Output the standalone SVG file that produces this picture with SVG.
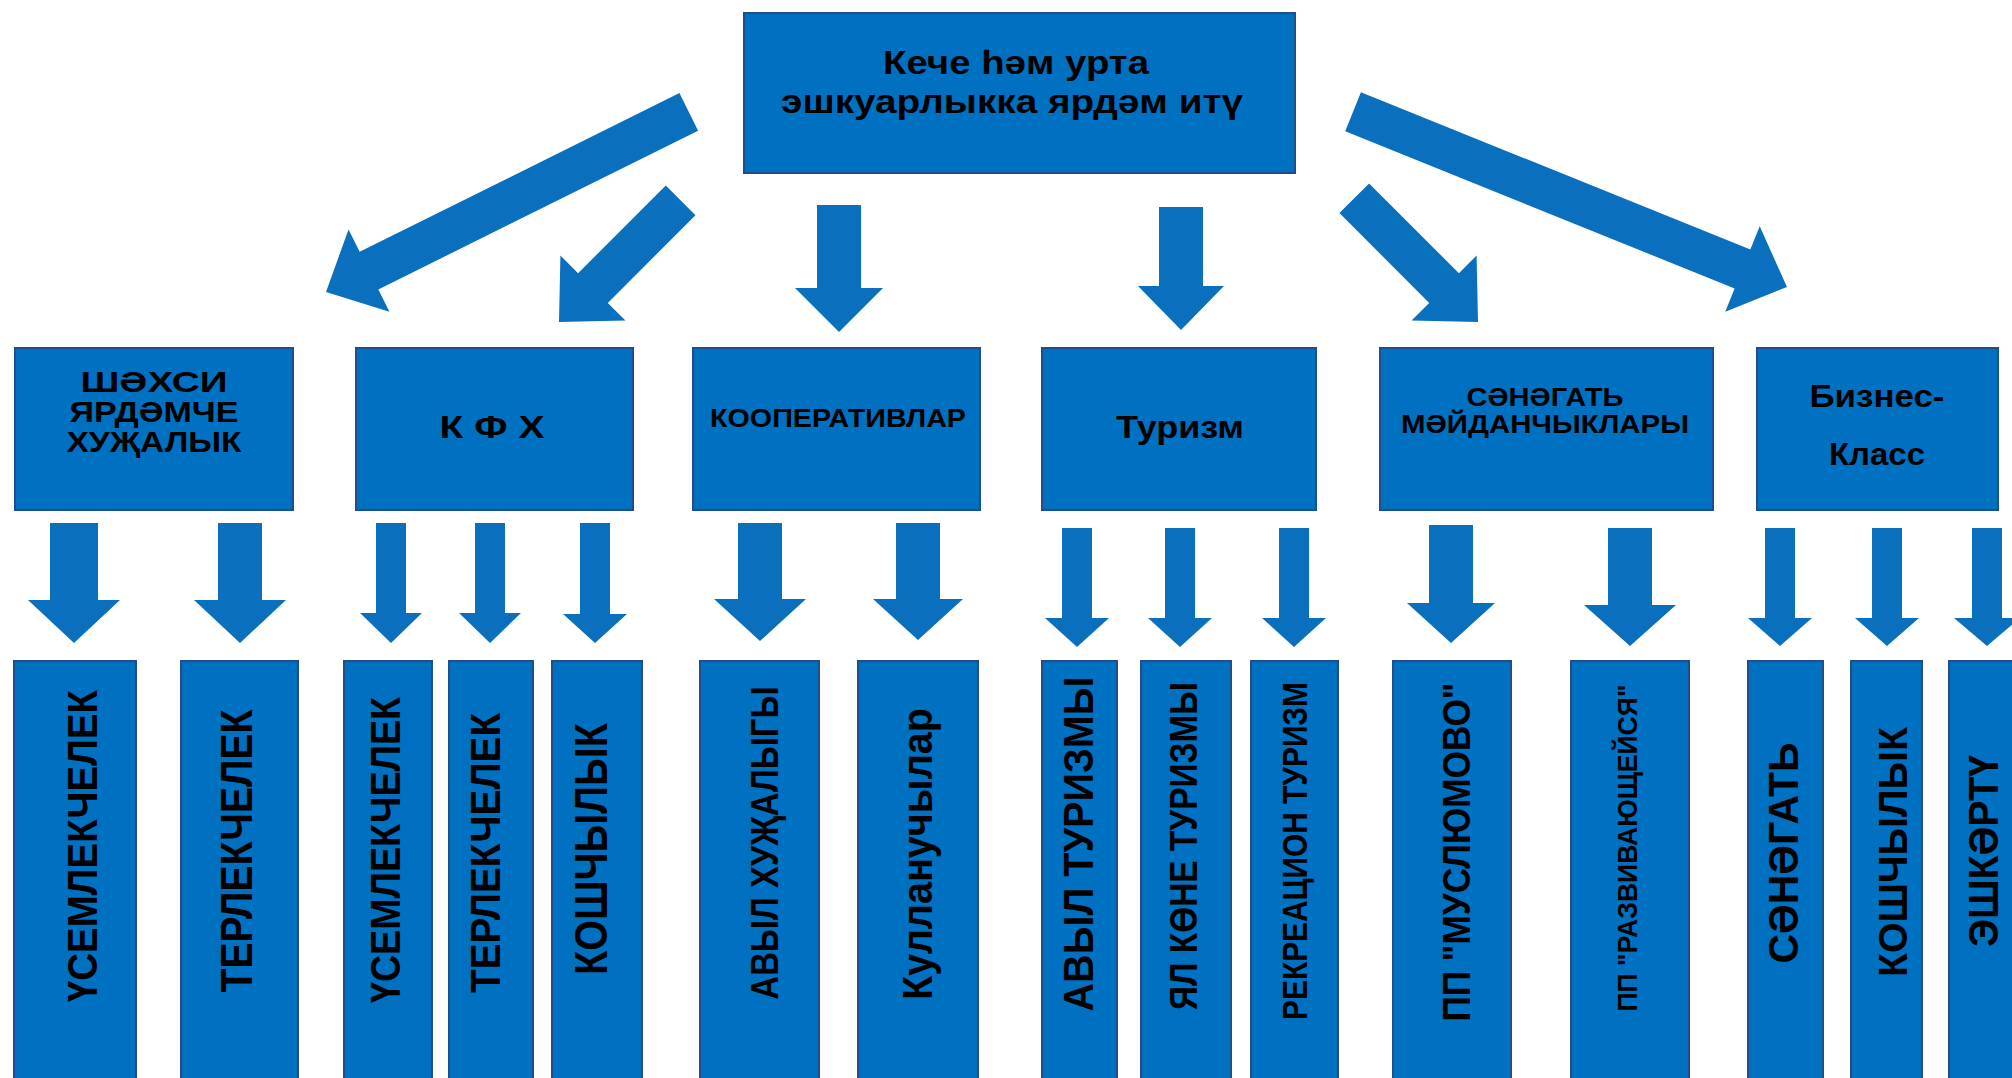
<svg xmlns="http://www.w3.org/2000/svg" width="2012" height="1078" viewBox="0 0 2012 1078">
<style>
.box{fill:#0070C0;stroke:#1F4E8C;stroke-width:2}
.arr{fill:#0A70BE}
.t{font-family:"Liberation Sans",Arial,sans-serif;font-weight:bold;fill:#000;text-anchor:middle}
</style>
<rect width="2012" height="1078" fill="#fff"/>
<g id="connectors">
<polygon class="arr" transform="translate(326,292) rotate(153.6)" points="0,0 -48,46 -48,21 -405,21 -405,-21 -48,-21 -48,-46"/>
<polygon class="arr" transform="translate(559,322) rotate(135)" points="0,0 -48,46 -48,21 -172,21 -172,-21 -48,-21 -48,-46"/>
<polygon class="arr" transform="translate(839,332) rotate(90)" points="0,0 -44,44 -44,22 -127,22 -127,-22 -44,-22 -44,-44"/>
<polygon class="arr" transform="translate(1181,330) rotate(90)" points="0,0 -44,43 -44,22 -123,22 -123,-22 -44,-22 -44,-43"/>
<polygon class="arr" transform="translate(1478,322) rotate(45)" points="0,0 -48,46 -48,21 -175,21 -175,-21 -48,-21 -48,-46"/>
<polygon class="arr" transform="translate(1787,287) rotate(22)" points="0,0 -48,46 -48,21 -468,21 -468,-21 -48,-21 -48,-46"/>
<polygon class="arr" points="50,523 98,523 98,600 120,600 74,643 28,600 50,600"/>
<polygon class="arr" points="218,523 262,523 262,600 286,600 240,643 194,600 218,600"/>
<polygon class="arr" points="376,523 406,523 406,613 422,613 391,643 360,613 376,613"/>
<polygon class="arr" points="475,523 505,523 505,613 521,613 490,643 459,613 475,613"/>
<polygon class="arr" points="580,523 610,523 610,614 627,614 595,643 563,614 580,614"/>
<polygon class="arr" points="738,523 782,523 782,599 806,599 760,641 714,599 738,599"/>
<polygon class="arr" points="896,523 940,523 940,599 963,599 918,640 873,599 896,599"/>
<polygon class="arr" points="1062,528 1092,528 1092,618 1109,618 1077,647 1045,618 1062,618"/>
<polygon class="arr" points="1165,528 1195,528 1195,618 1212,618 1180,647 1148,618 1165,618"/>
<polygon class="arr" points="1279,528 1309,528 1309,618 1326,618 1294,647 1262,618 1279,618"/>
<polygon class="arr" points="1429,525 1473,525 1473,603 1495,603 1451,643 1407,603 1429,603"/>
<polygon class="arr" points="1608,528 1652,528 1652,605 1676,605 1630,646 1584,605 1608,605"/>
<polygon class="arr" points="1765,528 1795,528 1795,618 1812,618 1780,646 1748,618 1765,618"/>
<polygon class="arr" points="1872,528 1902,528 1902,618 1919,618 1887,646 1855,618 1872,618"/>
<polygon class="arr" points="1972,528 2002,528 2002,618 2020,618 1987,646 1954,618 1972,618"/>
</g>
<g id="root">
<rect class="box" x="744" y="13" width="551" height="160"/>
<text class="t" x="1016" y="74" font-size="34" textLength="266" lengthAdjust="spacingAndGlyphs">Кече һәм урта</text>
<text class="t" x="1012" y="113" font-size="34" textLength="462" lengthAdjust="spacingAndGlyphs">эшкуарлыкка ярдәм итү</text>
</g>
<g id="n-shaxsi">
<rect class="box" x="15" y="348" width="278" height="162"/>
<text class="t" x="154" y="392" font-size="30" textLength="147" lengthAdjust="spacingAndGlyphs">ШӘХСИ</text>
<text class="t" x="154" y="422" font-size="30" textLength="169" lengthAdjust="spacingAndGlyphs">ЯРДӘМЧЕ</text>
<text class="t" x="154" y="452" font-size="30" textLength="175" lengthAdjust="spacingAndGlyphs">ХУҖАЛЫК</text>
</g>
<g id="n-kfx">
<rect class="box" x="356" y="348" width="277" height="162"/>
<text class="t" x="492" y="438" font-size="31" textLength="105" lengthAdjust="spacingAndGlyphs">К Ф Х</text>
</g>
<g id="n-koop">
<rect class="box" x="693" y="348" width="287" height="162"/>
<text class="t" x="838" y="427" font-size="25" textLength="256" lengthAdjust="spacingAndGlyphs">КООПЕРАТИВЛАР</text>
</g>
<g id="n-turizm">
<rect class="box" x="1042" y="348" width="274" height="162"/>
<text class="t" x="1180" y="438" font-size="31" textLength="128" lengthAdjust="spacingAndGlyphs">Туризм</text>
</g>
<g id="n-sanagat">
<rect class="box" x="1380" y="348" width="333" height="162"/>
<text class="t" x="1545" y="406" font-size="25" textLength="157" lengthAdjust="spacingAndGlyphs">СӘНӘГАТЬ</text>
<text class="t" x="1545" y="433" font-size="25" textLength="288" lengthAdjust="spacingAndGlyphs">МӘЙДАНЧЫКЛАРЫ</text>
</g>
<g id="n-biznes">
<rect class="box" x="1757" y="348" width="241" height="162"/>
<text class="t" x="1877" y="407" font-size="31" textLength="135" lengthAdjust="spacingAndGlyphs">Бизнес-</text>
<text class="t" x="1877" y="465" font-size="31" textLength="96" lengthAdjust="spacingAndGlyphs">Класс</text>
</g>
<g id="b1"><rect class="box" x="14" y="661" width="122" height="440"/>
<text class="t" transform="translate(97,846) rotate(-90)" font-size="42" textLength="312" lengthAdjust="spacingAndGlyphs">ҮСЕМЛЕКЧЕЛЕК</text></g>
<g id="b2"><rect class="box" x="181" y="661" width="117" height="440"/>
<text class="t" transform="translate(252,851) rotate(-90)" font-size="44" textLength="283" lengthAdjust="spacingAndGlyphs">ТЕРЛЕКЧЕЛЕК</text></g>
<g id="b3"><rect class="box" x="344" y="661" width="88" height="440"/>
<text class="t" transform="translate(400,850) rotate(-90)" font-size="42" textLength="306" lengthAdjust="spacingAndGlyphs">ҮСЕМЛЕКЧЕЛЕК</text></g>
<g id="b4"><rect class="box" x="449" y="661" width="84" height="440"/>
<text class="t" transform="translate(500,853) rotate(-90)" font-size="42" textLength="280" lengthAdjust="spacingAndGlyphs">ТЕРЛЕКЧЕЛЕК</text></g>
<g id="b5"><rect class="box" x="552" y="661" width="90" height="440"/>
<text class="t" transform="translate(607,849) rotate(-90)" font-size="46" textLength="252" lengthAdjust="spacingAndGlyphs">КОШЧЫЛЫК</text></g>
<g id="b6"><rect class="box" x="700" y="661" width="119" height="440"/>
<text class="t" transform="translate(778,843) rotate(-90)" font-size="39" textLength="313" lengthAdjust="spacingAndGlyphs">АВЫЛ ХУҖАЛЫГЫ</text></g>
<g id="b7"><rect class="box" x="858" y="661" width="120" height="440"/>
<text class="t" transform="translate(932,854) rotate(-90)" font-size="42" textLength="292" lengthAdjust="spacingAndGlyphs">Кулланучылар</text></g>
<g id="b8"><rect class="box" x="1042" y="661" width="75" height="440"/>
<text class="t" transform="translate(1093,844) rotate(-90)" font-size="43" textLength="335" lengthAdjust="spacingAndGlyphs">АВЫЛ ТУРИЗМЫ</text></g>
<g id="b9"><rect class="box" x="1141" y="661" width="90" height="440"/>
<text class="t" transform="translate(1197,846) rotate(-90)" font-size="38" textLength="328" lengthAdjust="spacingAndGlyphs">ЯЛ КӨНЕ ТУРИЗМЫ</text></g>
<g id="b10"><rect class="box" x="1251" y="661" width="87" height="440"/>
<text class="t" transform="translate(1307,851) rotate(-90)" font-size="35" textLength="338" lengthAdjust="spacingAndGlyphs">РЕКРЕАЦИОН ТУРИЗМ</text></g>
<g id="b11"><rect class="box" x="1393" y="661" width="118" height="440"/>
<text class="t" transform="translate(1470,852) rotate(-90)" font-size="39" textLength="339" lengthAdjust="spacingAndGlyphs">ПП "МУСЛЮМОВО"</text></g>
<g id="b12"><rect class="box" x="1571" y="661" width="118" height="440"/>
<text class="t" transform="translate(1637,848) rotate(-90)" font-size="28" textLength="327" lengthAdjust="spacingAndGlyphs">ПП "РАЗВИВАЮЩЕЙСЯ"</text></g>
<g id="b13"><rect class="box" x="1748" y="661" width="75" height="440"/>
<text class="t" transform="translate(1798,853) rotate(-90)" font-size="42" textLength="221" lengthAdjust="spacingAndGlyphs">СӘНӘГАТЬ</text></g>
<g id="b14"><rect class="box" x="1851" y="661" width="71" height="440"/>
<text class="t" transform="translate(1907,852) rotate(-90)" font-size="41" textLength="250" lengthAdjust="spacingAndGlyphs">КОШЧЫЛЫК</text></g>
<g id="b15"><rect class="box" x="1949" y="661" width="80" height="440"/>
<text class="t" transform="translate(1998,851) rotate(-90)" font-size="42" textLength="192" lengthAdjust="spacingAndGlyphs">ЭШКӘРТҮ</text></g>
</svg>
